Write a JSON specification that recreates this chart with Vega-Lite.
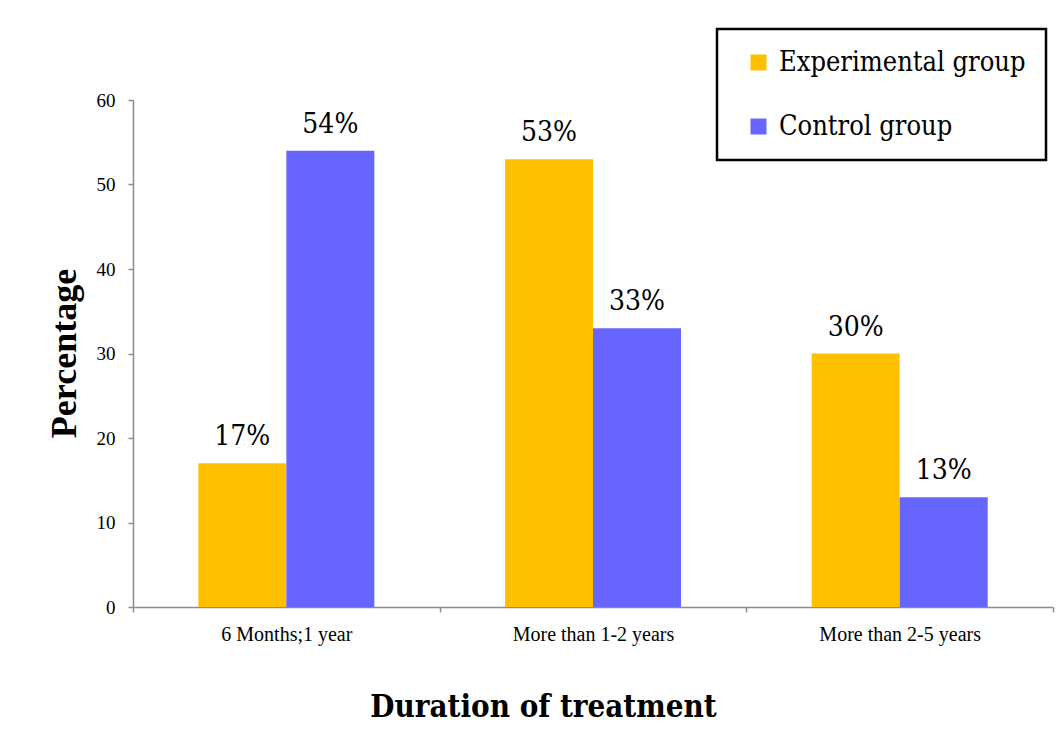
{
  "$schema": "https://vega.github.io/schema/vega-lite/v6.json",
  "width": 920,
  "height": 507,
  "autosize": {"type": "none"},
  "padding": {"left": 133, "top": 100, "right": 11, "bottom": 144},
  "background": "white",
  "data": {
    "values": [
      {"duration": "6 Months;1 year", "group": "Experimental group", "percent": 17},
      {"duration": "6 Months;1 year", "group": "Control group", "percent": 54},
      {"duration": "More than 1-2 years", "group": "Experimental group", "percent": 53},
      {"duration": "More than 1-2 years", "group": "Control group", "percent": 33},
      {"duration": "More than 2-5 years", "group": "Experimental group", "percent": 30},
      {"duration": "More than 2-5 years", "group": "Control group", "percent": 13}
    ]
  },
  "transform": [{"calculate": "datum.percent + '%'", "as": "label"}],
  "encoding": {
    "x": {
      "field": "duration",
      "type": "nominal",
      "sort": ["6 Months;1 year", "More than 1-2 years", "More than 2-5 years"],
      "scale": {"paddingInner": 0, "paddingOuter": 0},
      "title": "Duration of treatment",
      "axis": {
        "tickBand": "extent",
        "labelAngle": 0,
        "labelPadding": 28,
        "labelBaseline": "alphabetic",
        "labelFontSize": 20,
        "titleFont": "DejaVu Serif Condensed",
        "titleFontSize": 31,
        "titleFontWeight": "bold",
        "titleX": 410,
        "titleY": 109,
        "titleBaseline": "alphabetic",
        "titleAlign": "center"
      }
    },
    "xOffset": {
      "field": "group",
      "type": "nominal",
      "sort": ["Experimental group", "Control group"],
      "scale": {"paddingInner": 0, "paddingOuter": 0.742}
    },
    "y": {
      "field": "percent",
      "type": "quantitative",
      "scale": {"domain": [0, 60], "nice": false},
      "title": "Percentage",
      "axis": {
        "values": [0, 10, 20, 30, 40, 50, 60],
        "labelPadding": 13,
        "labelFontSize": 19,
        "titleFontSize": 36,
        "titleFontWeight": "bold",
        "titleAngle": -90,
        "titleX": -58,
        "titleY": 253,
        "titleBaseline": "alphabetic",
        "titleAlign": "center"
      }
    }
  },
  "layer": [
    {
      "mark": {"type": "bar"},
      "encoding": {
        "color": {
          "field": "group",
          "type": "nominal",
          "sort": ["Experimental group", "Control group"],
          "scale": {"domain": ["Experimental group", "Control group"], "range": ["#FFC000", "#6666FF"]},
          "legend": {"title": null}
        }
      }
    },
    {
      "mark": {"type": "text", "dy": -18, "baseline": "alphabetic", "align": "center", "fontSize": 28, "font": "DejaVu Serif Condensed", "color": "black"},
      "encoding": {"text": {"field": "label", "type": "nominal"}}
    }
  ],
  "config": {
    "view": {"stroke": null},
    "font": "Liberation Serif",
    "axis": {
      "grid": false,
      "domainColor": "#8c8c8c",
      "domainWidth": 1.5,
      "tickColor": "#8c8c8c",
      "tickWidth": 1.5,
      "tickSize": 5,
      "labelFont": "Liberation Serif",
      "labelColor": "black",
      "titleFont": "Liberation Serif",
      "titleColor": "black"
    },
    "legend": {
      "orient": "none",
      "legendX": 584,
      "legendY": -71,
      "strokeColor": "black",
      "strokeWidth": 2.5,
      "fillColor": "white",
      "padding": 20,
      "symbolOffset": 8,
      "symbolType": "square",
      "symbolSize": 256,
      "symbolStrokeWidth": 0,
      "labelFont": "DejaVu Serif Condensed",
      "labelFontSize": 27,
      "labelColor": "black",
      "labelOffset": 7,
      "labelLimit": 400,
      "rowPadding": 36
    }
  }
}
